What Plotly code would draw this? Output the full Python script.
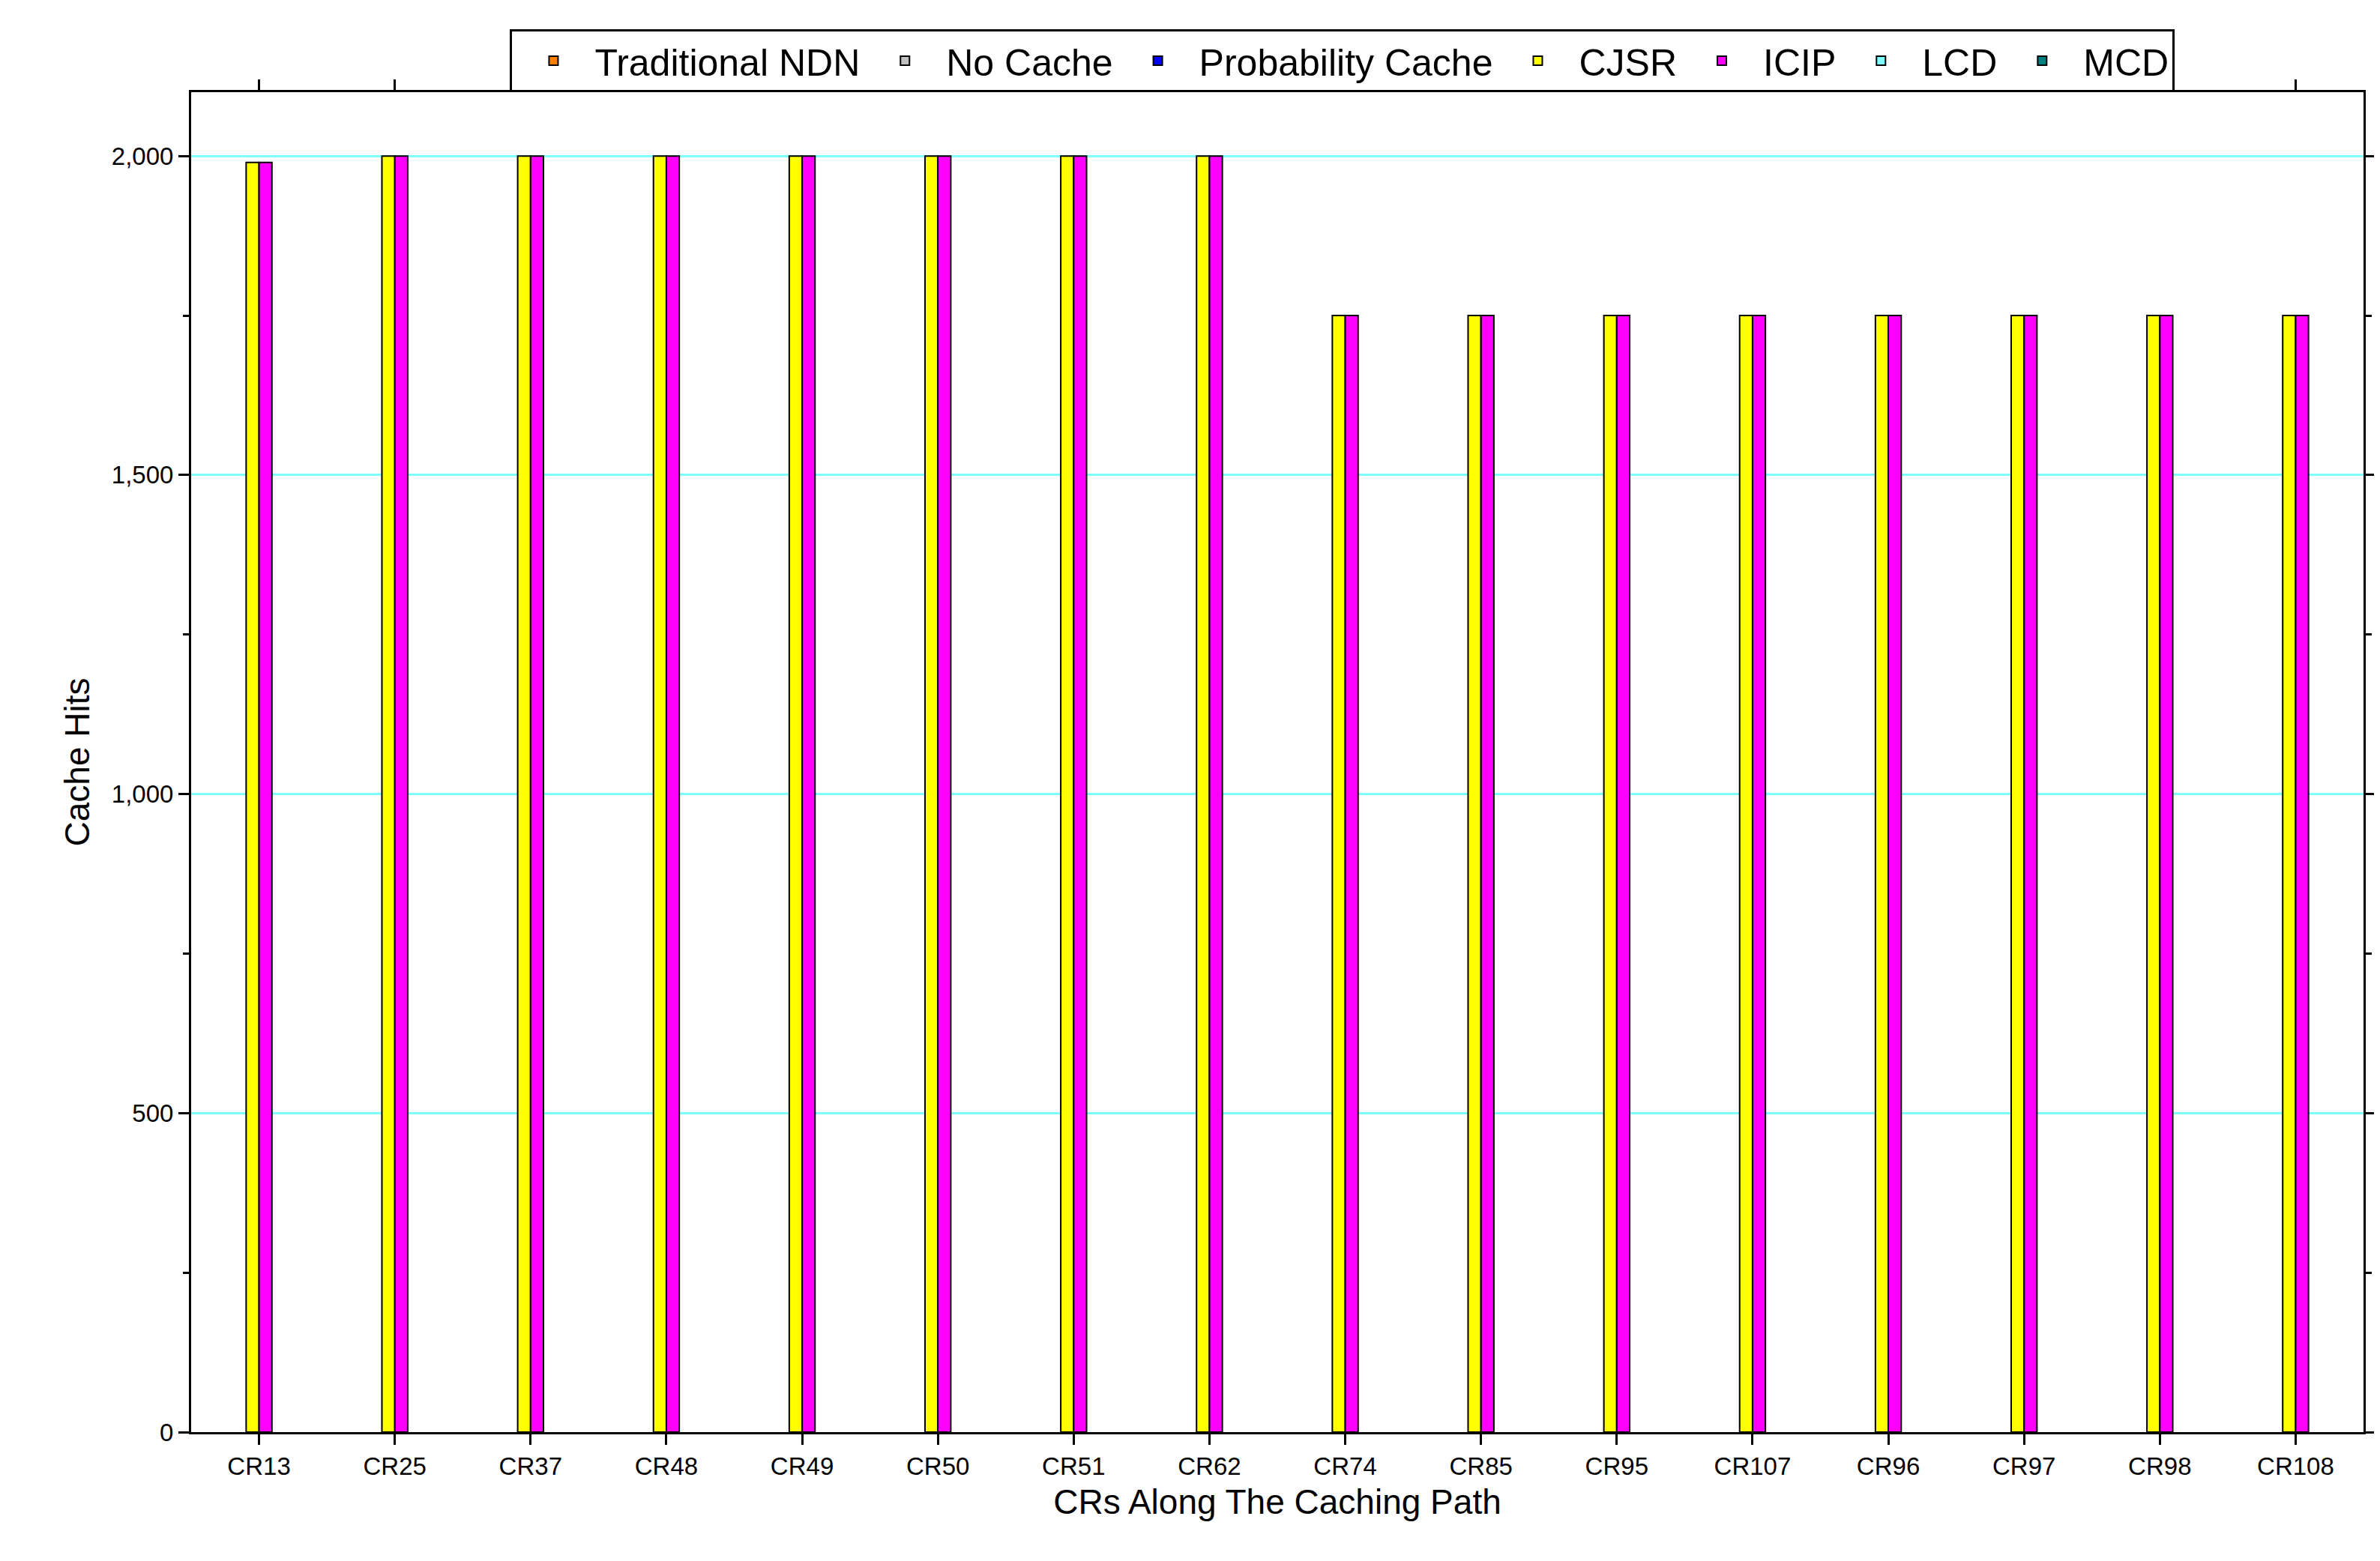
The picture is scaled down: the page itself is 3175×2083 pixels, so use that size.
import plotly.graph_objects as go

routers = ["CR13", "CR25", "CR37", "CR48", "CR49", "CR50", "CR51", "CR62",
           "CR74", "CR85", "CR95", "CR107", "CR96", "CR97", "CR98", "CR108"]
cjsr = [1990, 2000, 2000, 2000, 2000, 2000, 2000, 2000,
        1750, 1750, 1750, 1750, 1750, 1750, 1750, 1750]
icip = [1990, 2000, 2000, 2000, 2000, 2000, 2000, 2000,
        1750, 1750, 1750, 1750, 1750, 1750, 1750, 1750]
legend_only = [("Traditional NDN", "#FF7F00"), ("No Cache", "#C0C0C0"),
               ("Probability Cache", "#0000FF")]
legend_tail = [("LCD", "#80FFFF"), ("MCD", "#008080")]

fig = go.Figure()

def dummy(name, color):
    # empty series, only shown in the legend
    fig.add_trace(go.Bar(x=routers, y=[None] * len(routers), name=name, marker_color=color,
                         marker_line=dict(color="black", width=2), width=0.095, offset=0))

for n, c in legend_only:
    dummy(n, c)
fig.add_trace(go.Bar(x=routers, y=cjsr, name="CJSR", marker_color="#FFFF00",
                     marker_line=dict(color="black", width=2), width=0.095, offset=-0.095))
fig.add_trace(go.Bar(x=routers, y=icip, name="ICIP", marker_color="#FF00FF",
                     marker_line=dict(color="black", width=2), width=0.095, offset=0))
for n, c in legend_tail:
    dummy(n, c)

axis_common = dict(showline=True, linecolor="black", linewidth=3, mirror="ticks",
                   ticks="outside", ticklen=14, tickwidth=3, tickcolor="black",
                   tickfont=dict(size=33, color="black"))
fig.update_xaxes(**axis_common, title=dict(text="CRs Along The Caching Path", font=dict(size=46)),
                 showgrid=False, type="category", categoryorder="array", categoryarray=routers)
fig.update_yaxes(**axis_common, title=dict(text="Cache Hits", font=dict(size=46)),
                 range=[0, 2100], tickvals=[0, 500, 1000, 1500, 2000], tickformat=",",
                 showgrid=True, gridcolor="#80FFFF", gridwidth=3,
                 minor=dict(tickvals=[250, 750, 1250, 1750], ticks="outside",
                            ticklen=8, tickwidth=3, tickcolor="black"))
fig.update_layout(
    width=3175, height=2083, plot_bgcolor="white", paper_bgcolor="white",
    font=dict(family="Liberation Sans, Arial", color="black"),
    margin=dict(l=247, r=30, t=115, b=180),
    barmode="group",
    legend=dict(orientation="h", x=0.53, xanchor="center", y=1.0, yanchor="bottom",
                bordercolor="black", borderwidth=3, font=dict(size=50),
                itemwidth=100, tracegroupgap=0),
    showlegend=True,
)
fig.write_html("out.html")
